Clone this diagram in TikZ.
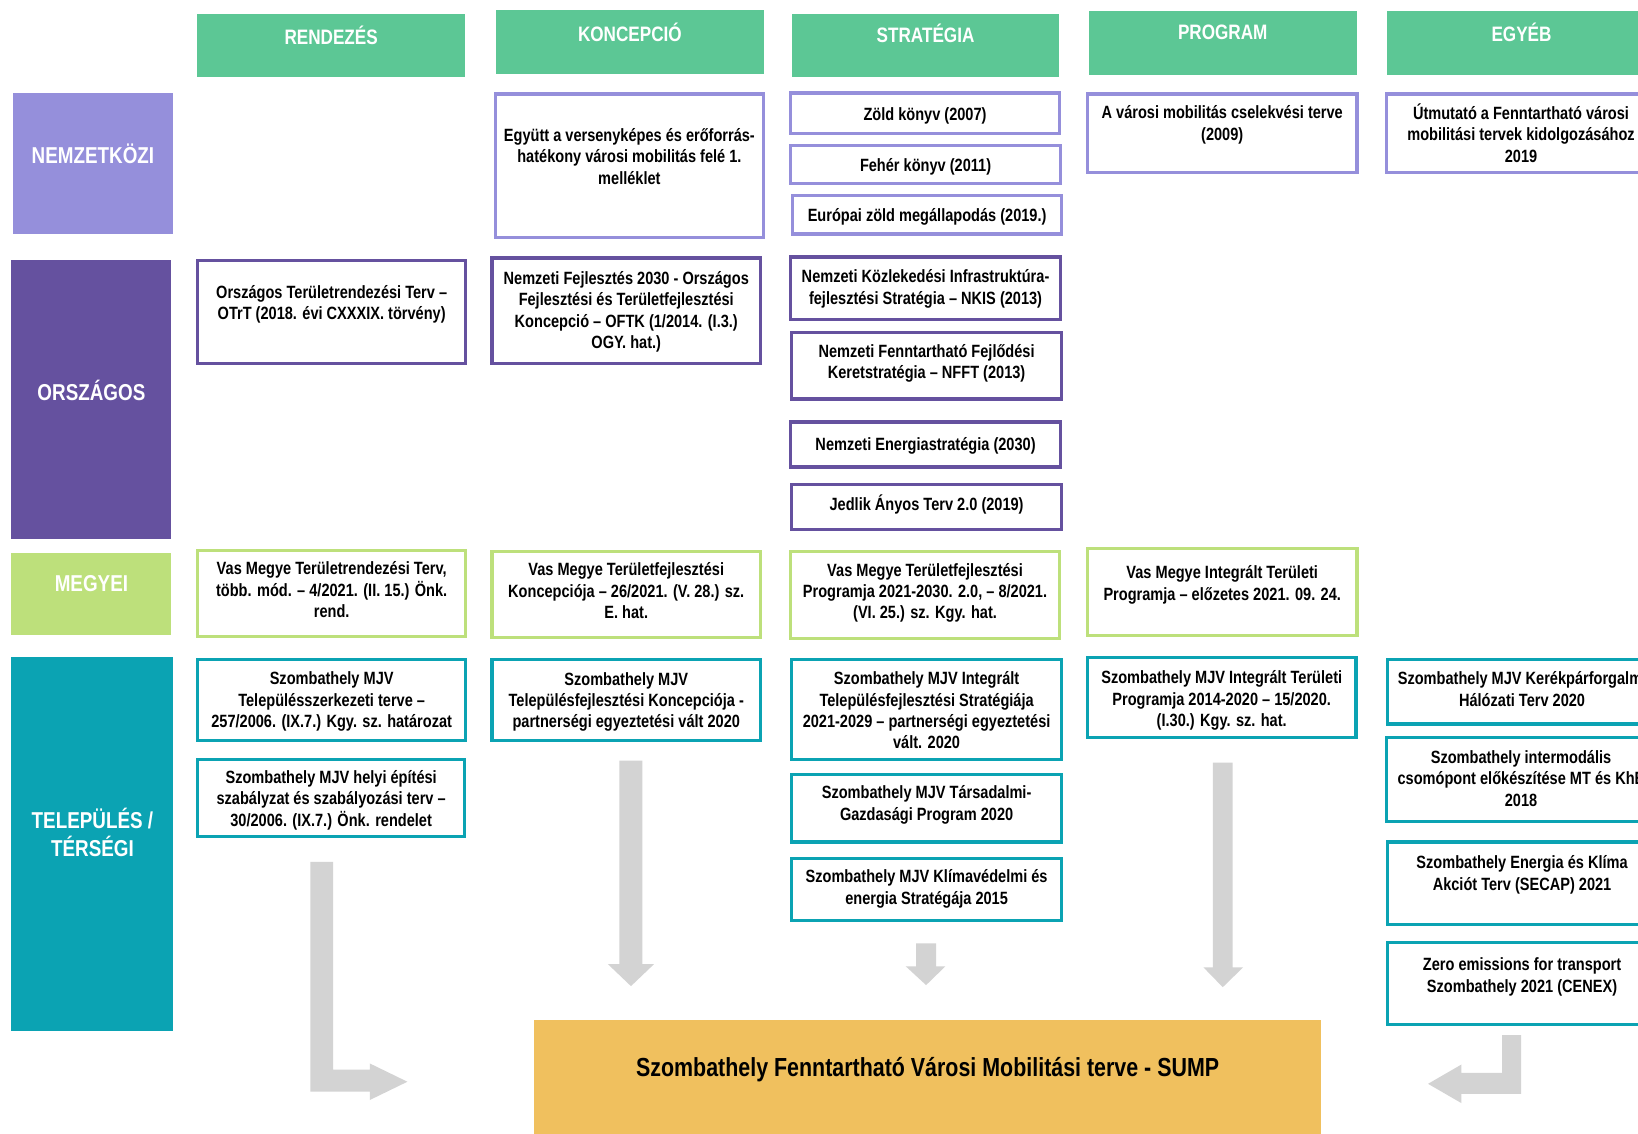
\documentclass[tikz,border=0pt]{standalone}
\usepackage{fontspec}
\setmainfont{Liberation Sans}[FakeStretch=0.82]
\usetikzlibrary{fit,calc}
\definecolor{hdrgreen}{HTML}{5CC795}
\definecolor{lav}{HTML}{958FDB}
\definecolor{purp}{HTML}{65519F}
\definecolor{lime}{HTML}{BDE07B}
\definecolor{teal}{HTML}{0BA3B3}
\definecolor{sump}{HTML}{F0C05E}
\definecolor{arrgray}{HTML}{D3D3D3}
\tikzset{
  basebox/.style={inner sep=0pt, line width=1.5pt, fill=white},
  nbox/.style={basebox, draw=lav},
  obox/.style={basebox, draw=purp},
  mbox/.style={basebox, draw=lime},
  tbox/.style={basebox, draw=teal},
  boxtext/.style={inner sep=0pt, align=center, text=black,
    font=\bfseries\fontsize{8.5pt}{10.25pt}\selectfont},
  hdrbox/.style={inner sep=0pt, fill=hdrgreen, draw=none},
  hdrtext/.style={inner sep=0pt, text=white, font=\bfseries\fontsize{10pt}{12pt}\selectfont},
  rowbox/.style={inner sep=0pt, draw=none},
  rowtext/.style={inner sep=0pt, align=center, text=white,
    font=\bfseries\fontsize{11pt}{13.5pt}\selectfont},
  blockarrow/.style={fill=arrgray, draw=none},
}
\newcommand\mybox[8]{%
  \node[#6, fit={(#2,#3) (#4,#5)}] (#1) {};
  \node[boxtext, yshift=#7*0.5pt] (#1-t) at (#1.center) {#8};
}
\begin{document}
\begin{tikzpicture}[x=0.5pt,y=-0.5pt]
\useasboundingbox (0,0) rectangle (1568,1085);
\clip (0,0) rectangle (1568,1085);

% column headers
\node[hdrbox, fit={(189,13) (445,74)}] (h1) {};
\node[hdrtext] (h1-t) at (317,34) {RENDEZÉS};
\node[hdrbox, fit={(475,10) (731,71)}] (h2) {};
\node[hdrtext] (h2-t) at (603,31) {KONCEPCIÓ};
\node[hdrbox, fit={(758,13) (1014,74)}] (h3) {};
\node[hdrtext] (h3-t) at (886,32) {STRATÉGIA};
\node[hdrbox, fit={(1042,11) (1299,72)}] (h4) {};
\node[hdrtext] (h4-t) at (1170.5,31) {PROGRAM};
\node[hdrbox, fit={(1328,11) (1585,72)}] (h5) {};
\node[hdrtext] (h5-t) at (1456.5,31) {EGYÉB};

% row labels
\node[rowbox, fill=lav, fit={(12,89) (166,224)}] (r1) {};
\node[rowtext] (r1-t) at (89,147) {NEMZETKÖZI};
\node[rowbox, fill=purp, fit={(11,249) (164,516)}] (r2) {};
\node[rowtext] (r2-t) at (87.5,374) {ORSZÁGOS};
\node[rowbox, fill=lime, fit={(11,529) (164,608)}] (r3) {};
\node[rowtext] (r3-t) at (87.5,559) {MEGYEI};
\node[rowbox, fill=teal, fit={(11,629) (166,987)}] (r4) {};
\node[rowtext] (r4-t) at (88.5,797) {TELEPÜLÉS /\\TÉRSÉGI};

% NEMZETKÖZI
\mybox{n1}{474}{90}{731}{227}{nbox}{9}{Együtt a versenyképes és erőforrás-\\hatékony városi mobilitás felé 1.\\melléklet}
\mybox{n2}{757}{89}{1014}{128}{nbox}{-2}{Zöld könyv (2007)}
\mybox{n3}{757}{139}{1015}{176}{nbox}{-2}{Fehér könyv (2011)}
\mybox{n4}{759}{187}{1016}{224}{nbox}{-2}{Európai zöld megállapodás (2019.)}
\mybox{n5}{1041}{90}{1299}{165}{nbox}{8}{A városi mobilitás cselekvési terve\\(2009)}
\mybox{n6}{1327}{90}{1585}{165}{nbox}{0}{Útmutató a Fenntartható városi\\mobilitási tervek kidolgozásához\\2019}

% ORSZÁGOS
\mybox{o1}{189}{249}{446}{348}{obox}{7}{Országos Területrendezési Terv –\\OTrT (2018. évi CXXXIX. törvény)}
\mybox{o2}{471}{247}{728}{348}{obox}{-1}{Nemzeti Fejlesztés 2030 - Országos\\Fejlesztési és Területfejlesztési\\Koncepció – OFTK (1/2014. (I.3.)\\OGY. hat.)}
\mybox{o3}{757}{246}{1015}{306}{obox}{-0.5}{Nemzeti Közlekedési Infrastruktúra-\\fejlesztési Stratégia – NKIS (2013)}
\mybox{o4}{758}{318}{1016}{382}{obox}{2}{Nemzeti Fenntartható Fejlődési\\Keretstratégia – NFFT (2013)}
\mybox{o5}{757}{404}{1015}{447}{obox}{-1.5}{Nemzeti Energiastratégia (2030)}
\mybox{o6}{758}{464}{1016}{507}{obox}{3}{Jedlik Ányos Terv 2.0 (2019)}

% MEGYEI
\mybox{m1}{189}{527}{446}{609}{mbox}{3.5}{Vas Megye Területrendezési Terv,\\több. mód. – 4/2021. (II. 15.) Önk.\\rend.}
\mybox{m2}{471}{528}{728}{610}{mbox}{3.5}{Vas Megye Területfejlesztési\\Koncepciója – 26/2021. (V. 28.) sz.\\E. hat.}
\mybox{m3}{757}{528}{1014}{611}{mbox}{2}{Vas Megye Területfejlesztési\\Programja 2021-2030. 2.0, – 8/2021.\\(VI. 25.) sz. Kgy. hat.}
\mybox{m4}{1041}{525}{1299}{608}{mbox}{6.5}{Vas Megye Integrált Területi\\Programja – előzetes 2021. 09. 24.}

% TELEPÜLÉS / TÉRSÉGI
\mybox{t1}{189}{631}{446}{709}{tbox}{-1.5}{Szombathely MJV\\Településszerkezeti terve –\\257/2006. (IX.7.) Kgy. sz. határozat}
\mybox{t2}{189}{727}{445}{801}{tbox}{-2}{Szombathely MJV helyi építési\\szabályzat és szabályozási terv –\\30/2006. (IX.7.) Önk. rendelet}
\mybox{t3}{471}{631}{728}{709}{tbox}{-2}{Szombathely MJV\\Településfejlesztési Koncepciója -\\partnerségi egyeztetési vált 2020}
\mybox{t4}{758}{631}{1016}{727}{tbox}{-1}{Szombathely MJV Integrált\\Településfejlesztési Stratégiája\\2021-2029 – partnerségi egyeztetési\\vált. 2020}
\mybox{t5}{758}{741}{1016}{806}{tbox}{3}{Szombathely MJV Társadalmi-\\Gazdasági Program 2020}
\mybox{t6}{758}{822}{1016}{881}{tbox}{0.5}{Szombathely MJV Klímavédelmi és\\energia Stratégája 2015}
\mybox{t7}{1041}{629}{1298}{706}{tbox}{-3}{Szombathely MJV Integrált Területi\\Programja 2014-2020 – 15/2020.\\(I.30.) Kgy. sz. hat.}
\mybox{t8}{1328}{631}{1586}{693}{tbox}{2.5}{Szombathely MJV Kerékpárforgalmi\\Hálózati Terv 2020}
\mybox{t9}{1327}{706}{1585}{786}{tbox}{1}{Szombathely intermodális\\csomópont előkészítése MT és KhE\\2018}
\mybox{t10}{1328}{806}{1586}{885}{tbox}{8}{Szombathely Energia és Klíma\\Akciót Terv (SECAP) 2021}
\mybox{t11}{1328}{902}{1586}{981}{tbox}{6.5}{Zero emissions for transport\\Szombathely 2021 (CENEX)}

% SUMP
\node[inner sep=0pt, fill=sump, draw=none, fit={(511,976) (1265,1090)}] (sump) {};
\node[inner sep=0pt, font=\bfseries\fontsize{12.5pt}{15pt}\selectfont] (sump-t) at (888,1024) {Szombathely Fenntartható Városi Mobilitási terve - SUMP};

% block arrows
\fill[blockarrow] (297,825) -- (319,825) -- (319,1024) -- (354,1024) -- (354,1018) -- (390,1035.5) -- (354,1053) -- (354,1045) -- (297,1045) -- cycle;
\fill[blockarrow] (593,728) -- (615,728) -- (615,923) -- (626,923) -- (604,944) -- (582,923) -- (593,923) -- cycle;
\fill[blockarrow] (877,903) -- (896,903) -- (896,925) -- (905,925) -- (886.5,943) -- (867,925) -- (877,925) -- cycle;
\fill[blockarrow] (1161,730) -- (1180,730) -- (1180,926) -- (1190,926) -- (1170.5,945) -- (1152,926) -- (1161,926) -- cycle;
\fill[blockarrow] (1438,991) -- (1456,991) -- (1456,1047) -- (1399,1047) -- (1399,1056) -- (1367,1037.5) -- (1399,1019) -- (1399,1027) -- (1438,1027) -- cycle;
\end{tikzpicture}
\end{document}
